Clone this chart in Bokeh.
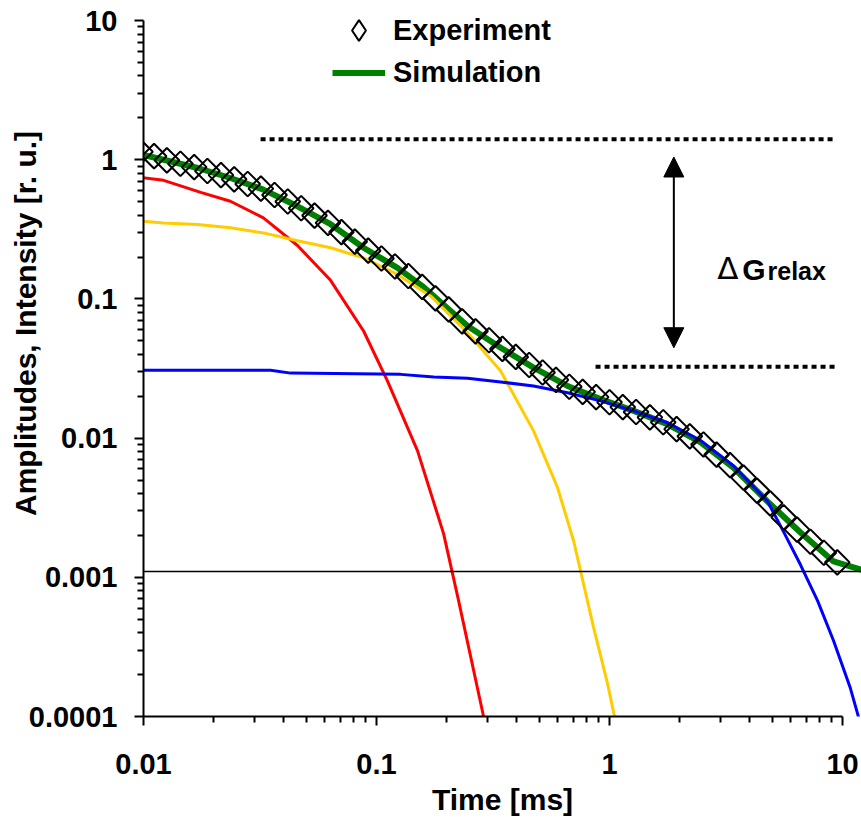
from bokeh.plotting import figure
from bokeh.models import (Range1d, FixedTicker, Span, Arrow, NormalHead, Label,
                          Legend, LegendItem)
from bokeh.embed import file_html
from bokeh.resources import INLINE

# ---------------- data ----------------
exp_time = [0.0097, 0.0111, 0.0126, 0.0144, 0.0165, 0.0188, 0.0215, 0.0245, 0.0280,
            0.0319, 0.0365, 0.0416, 0.0475, 0.0542, 0.0619, 0.0707, 0.0807, 0.0921,
            0.105, 0.120, 0.137, 0.157, 0.179, 0.204, 0.233, 0.266, 0.304, 0.347,
            0.396, 0.452, 0.516, 0.589, 0.672, 0.767, 0.876, 1.00, 1.14, 1.30, 1.49,
            1.70, 1.94, 2.21, 2.53, 2.88, 3.29, 3.76, 4.29, 4.89, 5.59, 6.38, 7.28,
            8.31, 9.49]
exp_amp = [1.14, 1.06, 0.99, 0.935, 0.885, 0.830, 0.775, 0.723, 0.669, 0.620, 0.558,
           0.501, 0.448, 0.397, 0.352, 0.302, 0.258, 0.222, 0.195, 0.171, 0.146, 0.122,
           0.101, 0.084, 0.069, 0.0585, 0.0505, 0.0437, 0.0383, 0.0335, 0.0296, 0.0262,
           0.0234, 0.0215, 0.0197, 0.0181, 0.0167, 0.0154, 0.0141, 0.0130, 0.0116,
           0.0103, 0.0090, 0.0076, 0.0064, 0.0052, 0.0042, 0.0034, 0.0027, 0.0022,
           0.0018, 0.0015, 0.00128]

sim_time = [0.0088, 0.0122, 0.0171, 0.0236, 0.0327, 0.0458, 0.0635, 0.088, 0.123,
            0.159, 0.246, 0.341, 0.472, 0.66, 0.915, 1.27, 1.77, 2.46, 3.41, 4.77,
            6.60, 9.15, 12.1]
sim_amp = [1.136, 1.00, 0.872, 0.739, 0.610, 0.463, 0.344, 0.233, 0.167, 0.122,
           0.0638, 0.0446, 0.0321, 0.0237, 0.0191, 0.0157, 0.0126, 0.0093, 0.0061,
           0.0035, 0.0021, 0.0013, 0.00113]

red_time = [0.0088, 0.0122, 0.0176, 0.0236, 0.0327, 0.0458, 0.0635, 0.088, 0.1115,
            0.150, 0.194, 0.225, 0.253, 0.288, 0.309]
red_amp = [0.76, 0.711, 0.583, 0.503, 0.382, 0.242, 0.136, 0.0588, 0.0257, 0.0081,
           0.00206, 0.00068, 0.000274, 0.0001, 0.000057]

yellow_time = [0.0088, 0.0122, 0.0171, 0.0236, 0.0327, 0.0458, 0.0635, 0.088, 0.123,
               0.171, 0.246, 0.341, 0.472, 0.598, 0.701, 0.854, 0.980, 1.082]
yellow_amp = [0.367, 0.351, 0.342, 0.324, 0.298, 0.262, 0.233, 0.197, 0.150, 0.1047,
              0.0572, 0.0303, 0.01127, 0.00442, 0.00183, 0.000437, 0.000173, 0.000079]

blue_time = [0.0088, 0.0351, 0.0428, 0.127, 0.176, 0.246, 0.341, 0.472, 0.660, 0.915,
             1.27, 1.77, 2.46, 3.41, 4.77, 5.58, 6.60, 7.81, 9.15, 10.8, 11.6, 12.1]
blue_amp = [0.0307, 0.0307, 0.0293, 0.0287, 0.0275, 0.0269, 0.0253, 0.0237, 0.0212,
            0.0185, 0.0157, 0.0129, 0.0096, 0.0063, 0.0035, 0.00213, 0.00123, 0.00068,
            0.00035, 0.00016, 0.000105, 0.00008]

offset_level = 0.0011
plateau_high = 1.40
plateau_high_time = [0.0318, 9.15]
plateau_low = 0.0326
plateau_low_time = [0.871, 9.52]
arrow_time = 1.888
arrow_top = 1.046
arrow_bottom = 0.0446

x_ticks = [0.01, 0.1, 1, 10]
x_tick_labels = ["0.01", "0.1", "1", "10"]
y_ticks = [0.0001, 0.001, 0.01, 0.1, 1, 10]
y_tick_labels = ["0.0001", "0.001", "0.01", "0.1", "1", "10"]
x_minor = [m * 10.0 ** k for k in range(-2, 1) for m in range(2, 10)]
y_minor = [m * 10.0 ** k for k in range(-4, 1) for m in range(2, 10)]

FONT = "Liberation Sans"

# ---------------- figure ----------------
# the frame reaches a little above 10 so that the legend lies inside it;
# the axis itself is bounded to 0.0001 .. 10
p = figure(width=861, height=818, x_axis_type="log", y_axis_type="log",
           x_range=Range1d(0.01, 12.06), y_range=Range1d(0.0001, 12.82),
           output_backend="svg", toolbar_location=None,
           min_border_left=143, min_border_right=0, min_border_top=5,
           min_border_bottom=102)
p.grid.visible = False
p.outline_line_color = None
p.background_fill_color = "white"
p.border_fill_color = "white"

xa = p.xaxis[0]
ya = p.yaxis[0]
xa.ticker = FixedTicker(ticks=x_ticks, minor_ticks=x_minor)
ya.ticker = FixedTicker(ticks=y_ticks, minor_ticks=y_minor)
xa.major_label_overrides = dict(zip(x_ticks, x_tick_labels))
ya.major_label_overrides = dict(zip(y_ticks, y_tick_labels))
xa.bounds = (0.01, 10)
ya.bounds = (0.0001, 10)
for ax in (xa, ya):
    ax.axis_line_width = 2
    ax.axis_line_color = "black"
    ax.major_tick_line_width = 2
    ax.minor_tick_line_width = 2
    ax.major_tick_line_color = "black"
    ax.minor_tick_line_color = "black"
    ax.major_tick_out = 9
    ax.major_tick_in = 0
    ax.minor_tick_out = 6
    ax.minor_tick_in = 0
    ax.major_label_text_font = FONT
    ax.major_label_text_font_style = "bold"
    ax.major_label_text_font_size = "29px"
    ax.major_label_text_color = "black"
    ax.axis_label_text_font = FONT
    ax.axis_label_text_font_style = "bold"
    ax.axis_label_text_font_size = "30px"
    ax.axis_label_text_color = "black"
xa.axis_label = "Time [ms]"
# leading no-break spaces lift the title so that it sits where the reference has it
ya.axis_label = "\u00a0" * 9 + "Amplitudes, Intensity [r. u.]"
xa.major_label_standoff = 28
ya.major_label_standoff = 17
xa.axis_label_standoff = 6
ya.axis_label_standoff = -16

# offset level line
p.add_layout(Span(location=offset_level, dimension="width", line_color="black",
                  line_width=1.5))

# simulation, components
sim_r = p.line(sim_time, sim_amp, line_color="#008000", line_width=6)
p.line(red_time, red_amp, line_color="#FF0000", line_width=3)
p.line(yellow_time, yellow_amp, line_color="#FFCC00", line_width=3)
p.line(blue_time, blue_amp, line_color="#0000FF", line_width=3)

# experiment (square turned by 45 degrees = diamond of equal width and height)
exp_r = p.scatter(exp_time, exp_amp, marker="square", angle=0.785398, size=17.5,
                  line_color="black", line_width=2, fill_color=None)
# legend key for the experiment series (zero size, so it draws nothing in the plot)
exp_key = p.scatter(x=exp_time[:1], y=exp_amp[:1], marker="diamond", size=0,
                    line_color="black", line_width=2, fill_color=None)

# plateau markers
p.line(plateau_high_time, [plateau_high, plateau_high], line_color="black",
       line_width=4, line_dash="5 4")
p.line(plateau_low_time, [plateau_low, plateau_low], line_color="black",
       line_width=4, line_dash="5 4")

p.add_layout(Arrow(start=NormalHead(size=20, fill_color="black", line_color="black"),
                   end=NormalHead(size=20, fill_color="black", line_color="black"),
                   x_start=arrow_time, y_start=arrow_bottom, x_end=arrow_time,
                   y_end=arrow_top, line_width=2, line_color="black"))

p.add_layout(Label(x=2.899, y=0.1654, text="Δ", text_font="DejaVu Sans",
                   text_font_size="31px", text_baseline="alphabetic",
                   text_color="black"))
p.add_layout(Label(x=3.711, y=0.1627, text="G", text_font=FONT, text_font_style="bold",
                   text_font_size="30px", text_baseline="alphabetic",
                   text_color="black"))
p.add_layout(Label(x=4.765, y=0.1586, text="relax", text_font=FONT,
                   text_font_style="bold", text_font_size="25px",
                   text_baseline="alphabetic", text_color="black"))

legend_style = dict(orientation="vertical", glyph_width=53, label_standoff=8,
                    spacing=0, padding=0, margin=0, border_line_color=None,
                    background_fill_alpha=0, label_text_font=FONT,
                    label_text_font_style="bold", label_text_font_size="29px",
                    label_text_color="black")
legend_exp = Legend(items=[LegendItem(label="Experiment", renderers=[exp_key])],
                    location=(189, 660), glyph_height=52, label_height=52,
                    **legend_style)
legend_sim = Legend(items=[LegendItem(label="Simulation", renderers=[sim_r])],
                    location=(189, 623), glyph_height=41, label_height=41,
                    **legend_style)
p.add_layout(legend_exp)
p.add_layout(legend_sim)

open("out.html", "w").write(file_html(p, INLINE))
